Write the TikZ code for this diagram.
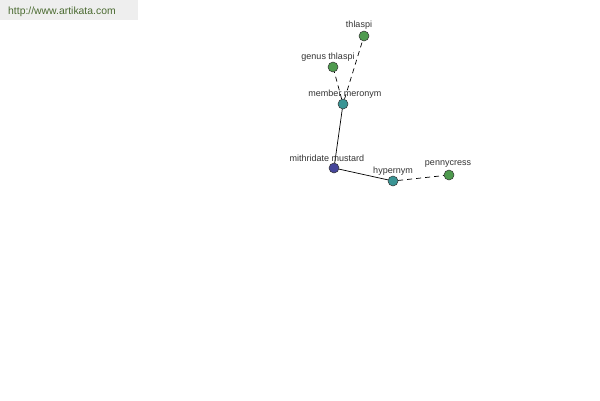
\documentclass[tikz,border=0pt]{standalone}
\usepackage{fontspec}
\setmainfont{Liberation Sans}
\definecolor{hdrbg}{HTML}{EEEEEE}
\definecolor{hdrtx}{HTML}{4A6A30}
\definecolor{gnode}{HTML}{4E9A4E}
\definecolor{tnode}{HTML}{3A9494}
\definecolor{bnode}{HTML}{45459A}
\definecolor{lbl}{HTML}{333333}
\tikzset{
  vert/.style={circle, draw=black!80, line width=0.5pt, minimum size=10pt, inner sep=0pt},
  lab/.style={font=\fontsize{9}{10}\selectfont, text=lbl, inner sep=0pt},
  link/.style={line width=0.7pt, draw=black},
  dlink/.style={line width=0.7pt, draw=black, dash pattern=on 5pt off 4pt},
}
\begin{document}
\begin{tikzpicture}[x=1pt,y=-1pt]
\useasboundingbox (0,0) rectangle (600,400);
\fill[white] (0,0) rectangle (600,400);
\fill[hdrbg] (0,0) rectangle (138,20);
\node[anchor=west, font=\fontsize{10.4}{12}\selectfont, text=hdrtx, inner sep=0pt] (hdr) at (8,11.5) {http://www.artikata.com};
\node[vert, fill=gnode] (th) at (364,36) {};
\node[vert, fill=gnode] (gt) at (333,67) {};
\node[vert, fill=tnode] (mm) at (343,104) {};
\node[vert, fill=bnode] (mu) at (334,168) {};
\node[vert, fill=tnode] (hy) at (393,181) {};
\node[vert, fill=gnode] (pc) at (449,175) {};
\draw[dlink] (mm) -- (th);
\draw[dlink] (mm) -- (gt);
\draw[link] (mu) -- (mm);
\draw[link] (mu) -- (hy);
\draw[dlink] (hy) -- (pc);
\node[lab] (thl) at (359,25) {thlaspi};
\node[lab] (gtl) at (328,57) {genus thlaspi};
\node[lab] (mml) at (345,94) {member meronym};
\node[lab] (mul) at (327,158) {mithridate mustard};
\node[lab] (hyl) at (393,171) {hypernym};
\node[lab] (pcl) at (448,164) {pennycress};
\end{tikzpicture}
\end{document}
